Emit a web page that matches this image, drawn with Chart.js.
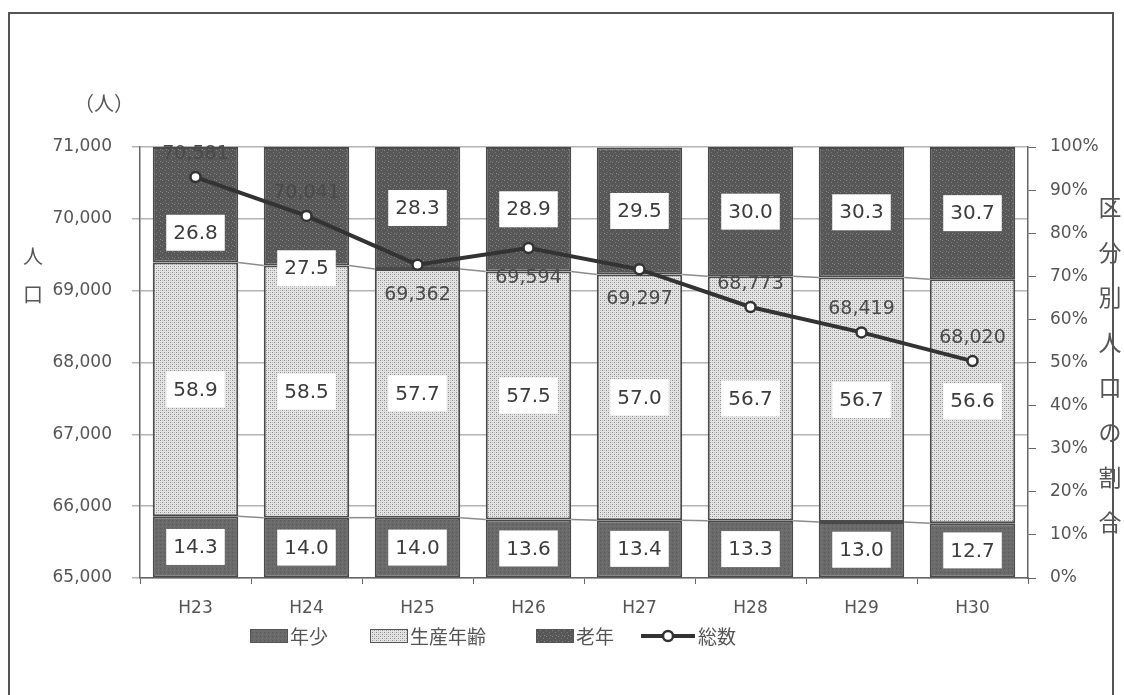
<!DOCTYPE html>
<html>
<head>
<meta charset="utf-8">
<script src="https://cdn.jsdelivr.net/npm/chart.js@4"></script>
<style>
  body { margin: 0; background: #fff; }
  #wrap { position: relative; width: 1124px; height: 695px; }
</style>
</head>
<body>
<div id="wrap"><canvas id="chart" width="1124" height="695"></canvas></div>
<script>
const years = ["H23", "H24", "H25", "H26", "H27", "H28", "H29", "H30"];
const young = [14.3, 14.0, 14.0, 13.6, 13.4, 13.3, 13.0, 12.7];
const working = [58.9, 58.5, 57.7, 57.5, 57.0, 56.7, 56.7, 56.6];
const elderly = [26.8, 27.5, 28.3, 28.9, 29.5, 30.0, 30.3, 30.7];
const total = [70581, 70041, 69362, 69594, 69297, 68773, 68419, 68020];

const leftTicks = [65000, 66000, 67000, 68000, 69000, 70000, 71000];
const rightTicks = [0, 10, 20, 30, 40, 50, 60, 70, 80, 90, 100];

const CJK = '"Noto Sans CJK JP", sans-serif';
const NUM = '"DejaVu Sans", sans-serif';
const TXT = "#555";

// little dotted fills like the printed original
function makePattern(base, dots, size) {
    const c = document.createElement("canvas");
    c.width = size;
    c.height = size;
    const g = c.getContext("2d");
    g.fillStyle = base;
    g.fillRect(0, 0, size, size);
    dots.forEach(d => {
        g.fillStyle = d[2];
        g.fillRect(d[0], d[1], 1, 1);
    });
    return g.createPattern(c, "repeat");
}

const ctx = document.getElementById("chart").getContext("2d");
const fillYoung = makePattern("#6a6a6a", [[0, 0, "#585858"], [2, 2, "#7a7a7a"]], 4);
const fillWorking = makePattern("#e4e4e4", [[0, 0, "#8e8e8e"], [2, 2, "#8e8e8e"], [2, 0, "#bcbcbc"], [0, 2, "#bcbcbc"]], 4);
const fillElderly = makePattern("#575757", [[0, 0, "#858585"], [3, 2, "#7a7a7a"], [1, 4, "#6c6c6c"], [4, 5, "#8a8a8a"]], 6);

// connector lines between stacked segments
const seriesLines = {
    id: "seriesLines",
    beforeDatasetsDraw(chart) {
        const c = chart.ctx;
        c.save();
        c.strokeStyle = "#8c8c8c";
        c.lineWidth = 1.5;
        [0, 1].forEach(di => {
            const bars = chart.getDatasetMeta(di).data;
            for (let i = 0; i < bars.length - 1; i++) {
                const a = bars[i], b = bars[i + 1];
                c.beginPath();
                c.moveTo(a.x + a.width / 2, a.y);
                c.lineTo(b.x - b.width / 2, b.y);
                c.stroke();
            }
        });
        c.restore();
    }
};

// value labels: white boxes on bars, plain numbers for the total line
const valueLabels = {
    id: "valueLabels",
    afterDatasetsDraw(chart) {
        const c = chart.ctx;
        const shift = { "2-0": 28, "2-1": 62 };
        c.save();
        c.textAlign = "center";
        c.textBaseline = "middle";
        [0, 1, 2].forEach(di => {
            const ds = chart.data.datasets[di];
            chart.getDatasetMeta(di).data.forEach((bar, i) => {
                const txt = ds.data[i].toFixed(1);
                const cy = (bar.y + bar.base) / 2 + (shift[di + "-" + i] || 0);
                c.font = "500 20px " + NUM;
                const w = c.measureText(txt).width + 14;
                c.fillStyle = "#fff";
                c.fillRect(bar.x - w / 2, cy - 18, w, 36);
                c.fillStyle = "#3c3c3c";
                c.fillText(txt, bar.x, cy + 1);
            });
        });
        const below = [false, false, true, true, true, false, false, false];
        c.font = "19px " + NUM;
        c.fillStyle = "#4a4a4a";
        chart.getDatasetMeta(3).data.forEach((pt, i) => {
            const y = below[i] ? pt.y + 30 : pt.y - 23;
            c.fillText(total[i].toLocaleString("en-US"), pt.x, y);
        });
        c.restore();
    }
};

// axis titles, legend, frame
const decorations = {
    id: "decorations",
    afterDraw(chart) {
        const c = chart.ctx;
        c.save();
        c.strokeStyle = "#555";
        c.lineWidth = 2;
        c.strokeRect(9, 13, 1104, 700);

        c.fillStyle = TXT;
        c.textAlign = "center";
        c.textBaseline = "middle";
        c.font = "20px " + CJK;
        c.fillText("（人）", 104, 103);
        c.fillText("人", 33, 256);
        c.fillText("口", 33, 294);
        c.font = "23px " + CJK;
        "区分別人口の割合".split("").forEach((ch, i) => {
            c.fillText(ch, 1110, 207 + i * 45);
        });

        // legend
        const ly = 636;
        c.font = "19px " + CJK;
        c.textAlign = "left";
        const items = [
            { x: 250, fill: fillYoung, label: "年少" },
            { x: 370, fill: fillWorking, label: "生産年齢" },
            { x: 536, fill: fillElderly, label: "老年" }
        ];
        items.forEach(it => {
            c.fillStyle = it.fill;
            c.fillRect(it.x, ly - 7, 38, 14);
            c.strokeStyle = "#555";
            c.lineWidth = 1;
            c.strokeRect(it.x + 0.5, ly - 6.5, 37, 13);
            c.fillStyle = TXT;
            c.fillText(it.label, it.x + 40, ly + 1);
        });
        c.strokeStyle = "#333";
        c.lineWidth = 4;
        c.beginPath();
        c.moveTo(641, ly);
        c.lineTo(695, ly);
        c.stroke();
        c.fillStyle = "#fff";
        c.lineWidth = 2.5;
        c.beginPath();
        c.arc(668, ly, 5, 0, Math.PI * 2);
        c.fill();
        c.stroke();
        c.fillStyle = TXT;
        c.fillText("総数", 698, ly + 1);
        c.restore();
    }
};

const barCommon = {
    type: "bar",
    yAxisID: "y1",
    borderColor: "#4a4a4a",
    borderWidth: 2,
    borderSkipped: false,
    barPercentage: 0.77,
    categoryPercentage: 1,
    order: 1
};

new Chart(ctx, {
    data: {
        labels: years,
        datasets: [
            Object.assign({ label: "年少", data: young, backgroundColor: fillYoung }, barCommon),
            Object.assign({ label: "生産年齢", data: working, backgroundColor: fillWorking }, barCommon),
            Object.assign({ label: "老年", data: elderly, backgroundColor: fillElderly }, barCommon),
            {
                type: "line",
                label: "総数",
                data: total,
                yAxisID: "y",
                borderColor: "#333",
                borderWidth: 4,
                pointRadius: 5,
                pointBackgroundColor: "#fff",
                pointBorderColor: "#333",
                pointBorderWidth: 2.5,
                tension: 0,
                order: 0
            }
        ]
    },
    options: {
        responsive: false,
        animation: false,
        layout: { padding: { top: 147, left: 0, right: 0, bottom: 0 } },
        plugins: {
            legend: { display: false },
            tooltip: { enabled: false }
        },
        scales: {
            x: {
                stacked: true,
                grid: { drawOnChartArea: false, tickLength: 6, color: "#666" },
                border: { color: "#666", width: 1.5 },
                ticks: { color: TXT, font: { family: NUM, size: 17 }, padding: 14 },
                afterFit(s) { s.height = 117; }
            },
            y: {
                position: "left",
                min: 65000,
                max: 71000,
                afterBuildTicks(s) { s.ticks = leftTicks.map(v => ({ value: v })); },
                grid: { color: "#b4b4b4", lineWidth: 1.5, tickLength: 8 },
                border: { color: "#666", width: 1.5 },
                ticks: {
                    color: TXT,
                    font: { family: NUM, size: 17 },
                    padding: 20,
                    callback: v => v.toLocaleString("en-US")
                },
                afterFit(s) { s.width = 140; }
            },
            y1: {
                position: "right",
                stacked: true,
                min: 0,
                max: 100,
                afterBuildTicks(s) { s.ticks = rightTicks.map(v => ({ value: v })); },
                grid: { drawOnChartArea: false, tickLength: 8, color: "#666" },
                border: { color: "#666", width: 1.5 },
                ticks: {
                    color: TXT,
                    font: { family: NUM, size: 17 },
                    padding: 14,
                    callback: v => v + "%"
                },
                afterFit(s) { s.width = 96; }
            }
        }
    },
    plugins: [seriesLines, valueLabels, decorations]
});
</script>
</body>
</html>
